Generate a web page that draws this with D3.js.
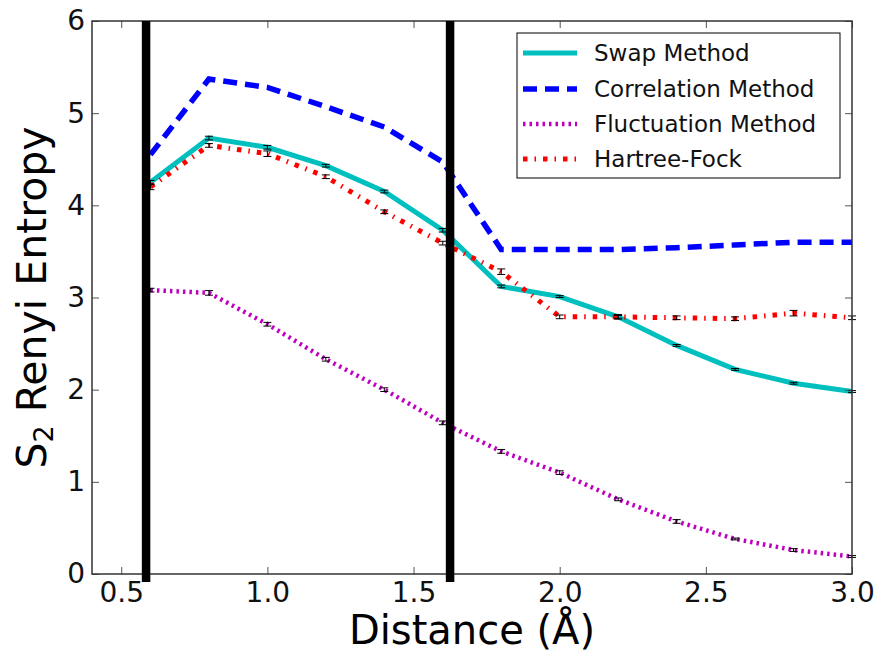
<!DOCTYPE html>
<html>
<head>
<meta charset="utf-8">
<script src="https://cdn.jsdelivr.net/npm/d3@7"></script>
<style>
	body { margin: 0; background: #fff; }
	svg { font-family: "DejaVu Sans", sans-serif; }
</style>
</head>
<body>
<svg id="chart" width="877" height="654"></svg>
<script>
// distances (Angstrom)
const distances = [0.6, 0.8, 1.0, 1.2, 1.4, 1.6, 1.8, 2.0, 2.2, 2.4, 2.6, 2.8, 3.0];

const swapVals = [4.25, 4.73, 4.63, 4.43, 4.15, 3.73, 3.12, 3.01, 2.79, 2.48, 2.22, 2.07, 1.98];
const swapErr = [0.02, 0.02, 0.02, 0.015, 0.015, 0.02, 0.015, 0.01, 0.015, 0.01, 0.01, 0.01, 0.01];

const corrVals = [4.55, 5.37, 5.28, 5.07, 4.85, 4.47, 3.52, 3.52, 3.52, 3.54, 3.57, 3.60, 3.60];

const flucVals = [3.08, 3.05, 2.71, 2.33, 2.00, 1.64, 1.33, 1.10, 0.81, 0.57, 0.38, 0.26, 0.19];
const flucErr = [0.02, 0.025, 0.02, 0.02, 0.02, 0.02, 0.02, 0.02, 0.015, 0.02, 0.01, 0.015, 0.01];

const hfVals = [4.20, 4.65, 4.56, 4.31, 3.93, 3.59, 3.28, 2.79, 2.79, 2.78, 2.77, 2.83, 2.78];
const hfErr = [0.03, 0.02, 0.03, 0.02, 0.02, 0.02, 0.03, 0.02, 0.025, 0.02, 0.02, 0.03, 0.02];

// thick black markers
const markerLines = [0.585, 1.625];

const xTicks = [0.5, 1.0, 1.5, 2.0, 2.5, 3.0];
const yTicks = [0, 1, 2, 3, 4, 5, 6];

const legendNames = ['Swap Method', 'Correlation Method', 'Fluctuation Method', 'Hartree-Fock'];

const svg = d3.select('#chart');
const plotLeft = 92, plotRight = 852, plotTop = 21, plotBottom = 574;

const x = d3.scaleLinear().domain([0.4, 3.0]).range([plotLeft, plotRight]);
const y = d3.scaleLinear().domain([0, 6]).range([plotBottom, plotTop]);

const styles = [
	{ color: '#00bfbf', width: 5, dash: null },
	{ color: '#0000ff', width: 5.5, dash: '14,8' },
	{ color: '#bf00bf', width: 4.5, dash: '2.5,4' },
	{ color: '#ff0000', width: 5, dash: '4.5,7,1.5,7' }
];

function drawSeries(vals, style) {
	const line = d3.line()
		.x((d, i) => x(distances[i]))
		.y(d => y(d));
	svg.append('path')
		.datum(vals)
		.attr('fill', 'none')
		.attr('stroke', style.color)
		.attr('stroke-width', style.width)
		.attr('stroke-dasharray', style.dash)
		.attr('d', line);
}

function drawErrors(vals, errs) {
	const g = svg.append('g').attr('stroke', '#000').attr('stroke-width', 1);
	vals.forEach((v, i) => {
		const cx = x(distances[i]);
		g.append('line').attr('x1', cx).attr('x2', cx)
			.attr('y1', y(v - errs[i])).attr('y2', y(v + errs[i]));
		[v - errs[i], v + errs[i]].forEach(e => {
			g.append('line').attr('x1', cx - 4).attr('x2', cx + 4)
				.attr('y1', y(e)).attr('y2', y(e));
		});
	});
}

/* -------------------- series ---------------------- */
drawSeries(swapVals, styles[0]);
drawSeries(corrVals, styles[1]);
drawSeries(flucVals, styles[2]);
drawSeries(hfVals, styles[3]);

drawErrors(swapVals, swapErr);
drawErrors(flucVals, flucErr);
drawErrors(hfVals, hfErr);

/* -------------------- axes ---------------------- */
const xAxis = svg.append('g').attr('transform', `translate(0,${plotBottom})`)
	.call(d3.axisBottom(x).tickValues(xTicks).tickFormat(d3.format('.1f'))
		.tickSizeInner(-7).tickSizeOuter(0).tickPadding(8));
const yAxis = svg.append('g').attr('transform', `translate(${plotLeft},0)`)
	.call(d3.axisLeft(y).tickValues(yTicks).tickFormat(d3.format('d'))
		.tickSizeInner(-7).tickSizeOuter(0).tickPadding(7));
svg.append('g').attr('transform', `translate(0,${plotTop})`)
	.call(d3.axisTop(x).tickValues(xTicks).tickFormat('').tickSizeInner(-7).tickSizeOuter(0));
svg.append('g').attr('transform', `translate(${plotRight},0)`)
	.call(d3.axisRight(y).tickValues(yTicks).tickFormat('').tickSizeInner(-7).tickSizeOuter(0));

svg.selectAll('.domain').remove();
svg.selectAll('.tick line').attr('stroke', '#555').attr('stroke-width', 1);
xAxis.selectAll('text').attr('font-size', 28).attr('font-family', 'DejaVu Sans').attr('fill', '#111');
yAxis.selectAll('text').attr('font-size', 28).attr('font-family', 'DejaVu Sans').attr('fill', '#111');

svg.append('rect')
	.attr('x', plotLeft).attr('y', plotTop)
	.attr('width', plotRight - plotLeft).attr('height', plotBottom - plotTop)
	.attr('fill', 'none').attr('stroke', '#333').attr('stroke-width', 1.5);

/* -------------------- black vertical lines ---------------------- */
svg.selectAll('.marker')
	.data(markerLines)
	.enter().append('line')
	.attr('x1', d => x(d)).attr('x2', d => x(d))
	.attr('y1', plotTop).attr('y2', 582)
	.attr('stroke', '#000').attr('stroke-width', 8.5);

/* -------------------- labels ---------------------- */
svg.append('text')
	.attr('x', (plotLeft + plotRight) / 2).attr('y', 644)
	.attr('text-anchor', 'middle')
	.attr('font-size', 40)
	.text('Distance (Å)');

const yl = svg.append('text')
	.attr('transform', `translate(46,${(plotTop + plotBottom) / 2}) rotate(-90)`)
	.attr('text-anchor', 'middle')
	.attr('font-size', 41);
yl.append('tspan').text('S');
yl.append('tspan').attr('font-size', 27).attr('dy', 7).text('2');
yl.append('tspan').attr('dy', -7).text(' Renyi Entropy');

/* -------------------- legend ---------------------- */
const legend = svg.append('g');
legend.append('rect')
	.attr('x', 517).attr('y', 33).attr('width', 323).attr('height', 145)
	.attr('fill', '#fff').attr('stroke', '#000').attr('stroke-width', 1);

const rowY = [53, 89, 124, 159];
legendNames.forEach((name, i) => {
	legend.append('line')
		.attr('x1', 523).attr('x2', 577)
		.attr('y1', rowY[i]).attr('y2', rowY[i])
		.attr('stroke', styles[i].color)
		.attr('stroke-width', styles[i].width)
		.attr('stroke-dasharray', styles[i].dash);
	legend.append('text')
		.attr('x', 594).attr('y', rowY[i])
		.attr('dy', '0.36em')
		.attr('font-size', 23)
		.attr('fill', '#111')
		.text(name);
});
</script>
</body>
</html>
